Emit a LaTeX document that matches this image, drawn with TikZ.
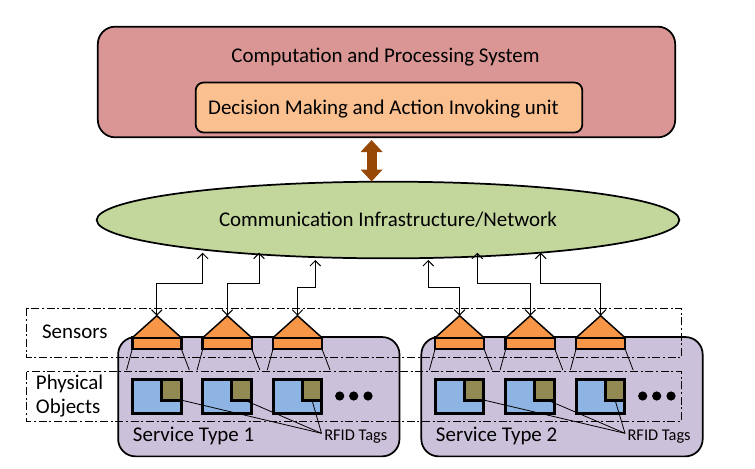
\documentclass[tikz,border=0pt]{standalone}
\usepackage{fontspec}
\setmainfont{Carlito}
\usetikzlibrary{shapes.geometric,arrows.meta}
\definecolor{procred}{HTML}{D99694}
\definecolor{unitorange}{HTML}{FAC090}
\definecolor{netgreen}{HTML}{C3D69B}
\definecolor{servpurple}{HTML}{CCC1DA}
\definecolor{sensorange}{HTML}{F79646}
\definecolor{objblue}{HTML}{8EB4E3}
\definecolor{tagolive}{HTML}{938953}
\definecolor{arrbrown}{HTML}{974806}
\tikzset{
	roundbox/.style = {draw, line width=1.3pt, rounded corners=13pt, inner sep=0pt, outer sep=0pt},
	sensbody/.style = {draw, line width=2pt, fill=sensorange, minimum width=36.8pt, minimum height=8.5pt, inner sep=0pt, outer sep=0pt},
	objbody/.style = {draw, line width=2.25pt, fill=objblue, minimum width=36.5pt, minimum height=25.7pt, inner sep=0pt, outer sep=0pt},
	tagbody/.style = {draw, line width=2.25pt, fill=tagolive, minimum width=14.8pt, minimum height=15.6pt, inner sep=0pt, outer sep=0pt, anchor=north east},
	link/.style = {line width=0.75pt, {Straight Barb[length=4pt,width=8pt]}-{Straight Barb[length=4pt,width=8pt]}},
	dashdot/.style = {line width=0.6pt, dash pattern=on 6pt off 2pt on 1.5pt off 2pt},
	leader/.style = {line width=0.6pt},
	txt/.style = {inner sep=0pt, font=\fontsize{15.7}{18}\selectfont},
	small/.style = {inner sep=0pt, font=\fontsize{12.3}{14}\selectfont}
}
\begin{document}
\begin{tikzpicture}[x = 0.75pt, y = -0.75pt]
	\useasboundingbox (0,0) rectangle (755,468);
	% upper blocks
	\node[roundbox, fill=procred, minimum width=433pt, minimum height=83pt] (proc) at (386.5,82) {};
	\node[txt] (proctxt) at (385.5,57) {Computation and Processing System};
	\node[roundbox, fill=unitorange, rounded corners=6pt, minimum width=290pt, minimum height=37.5pt] (unit) at (389,107.5) {};
	\node[txt] (unittxt) at (383.5,109) {Decision Making and Action Invoking unit};
	\node[ellipse, draw, line width=1.3pt, fill=netgreen, minimum width=437pt, minimum height=57.5pt, inner sep=0pt, outer sep=0pt, txt] (net) at (388,220) {Communication Infrastructure/Network};
	\coordinate (arrtop) at (371.6,140);
	\coordinate (arrbot) at (371.6,181.5);
	\draw[arrbrown, line width=7.5pt, {Triangle[length=9pt,width=16pt]}-{Triangle[length=9pt,width=16pt]}] (arrtop) -- (arrbot);

	% service groups
	\node[roundbox, fill=servpurple, minimum width=211pt, minimum height=89.5pt] (servA) at (258.8,396.7) {};
	\node[roundbox, fill=servpurple, minimum width=211pt, minimum height=89.5pt] (servB) at (562,396.7) {};
	\node[txt, anchor=west] (servAtxt) at (132.7,435.7) {Service Type 1};
	\node[txt, anchor=west] (servBtxt) at (435.7,435.7) {Service Type 2};

	% sensors and objects
	\foreach \i/\x in {1/156.8, 2/227.3, 3/297.5, 4/459.6, 5/530.3, 6/600.6} {
		\node[sensbody] (sens\i) at (\x,343.4) {};
		\coordinate (apex\i) at (\x,315.7);
		\draw[line width=1.1pt, line join=round, fill=sensorange] (sens\i.north west) -- (apex\i) -- (sens\i.north east) -- cycle;
		\draw[leader] (sens\i.south west) -- ++(-5.7,21);
		\draw[leader] (sens\i.south east) -- ++(8,21);
		\node[objbody] (obj\i) at (\x,396.4) {};
		\node[tagbody] (tag\i) at (obj\i.north east) {};
	}
	\foreach \x in {339.7, 353.7, 368, 642.7, 656.7, 671} {
		\fill (\x,396) circle (4.6);
	}

	% dash-dot bands
	\draw[dashdot] (26.7,308.3) rectangle (681.7,357.3);
	\draw[dashdot] (26.7,371.7) rectangle (681.7,421);
	\node[txt] (senstxt) at (74.8,332) {Sensors};
	\node[txt, anchor=west] (phystxt) at (35.7,384) {Physical};
	\node[txt, anchor=west] (objtxt) at (35.7,408) {Objects};

	% links to the network
	\foreach \i/\u/\v/\y in {1/202.7/252.7/283.3, 2/259/252.7/283.3, 3/315.3/260/287.3, 4/428.3/260/287.3, 5/477.3/252.7/283.3, 6/540.7/252.7/283.3} {
		\coordinate (tip\i) at (\u,\v);
		\coordinate (bend\i) at (\u,\y);
		\draw[link] (apex\i) |- (bend\i) -- (tip\i);
	}

	% rfid labels
	\node[small, anchor=west] (rfidA) at (324,436.7) {RFID Tags};
	\node[small, anchor=west] (rfidB) at (627.3,436.7) {RFID Tags};
	\coordinate (endA) at (321.5,433.3);
	\coordinate (endB) at (625,433.3);
	\draw[leader] (tag1.south east) -- (endA);
	\draw[leader] ([xshift=2pt]tag2.south) -- (endA);
	\draw[leader] (tag3.south) -- (endA);
	\draw[leader] (tag4.south east) -- (endB);
	\draw[leader] ([xshift=2pt]tag5.south) -- (endB);
	\draw[leader] (tag6.south) -- (endB);
\end{tikzpicture}
\end{document}
